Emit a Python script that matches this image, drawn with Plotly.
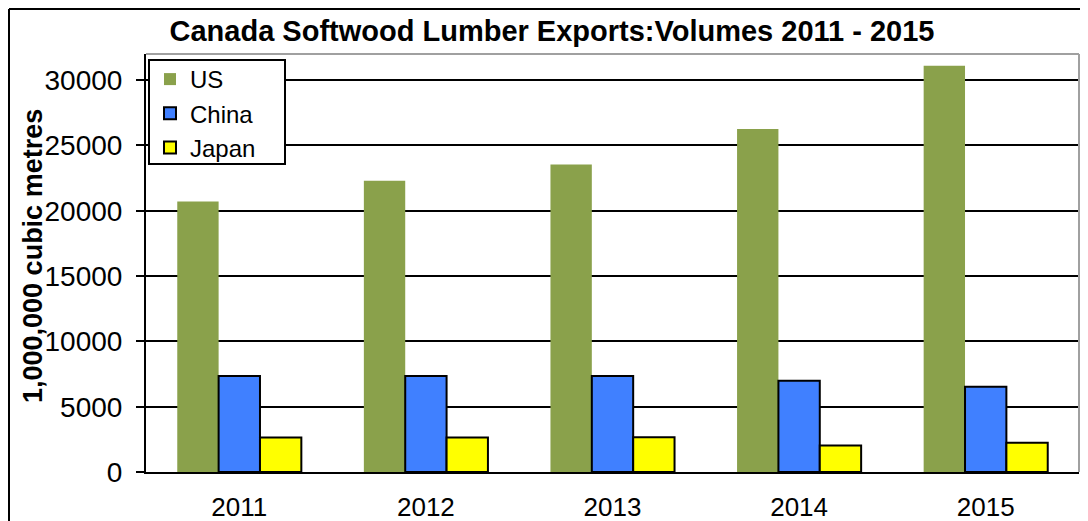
import plotly.graph_objects as go

years = ["2011", "2012", "2013", "2014", "2015"]
us = [20700, 22300, 23550, 26250, 31100]
china = [7350, 7350, 7350, 6980, 6520]
japan = [2650, 2650, 2660, 2030, 2240]
y_ticks = [0, 5000, 10000, 15000, 20000, 25000, 30000]

FONT = "Liberation Sans, Arial, sans-serif"

fig = go.Figure()
fig.add_trace(go.Bar(name="US", x=years, y=us, legendgroup="a",
                     marker=dict(color="#8AA14B", line=dict(color="#8AA14B", width=0))))
fig.add_trace(go.Bar(name="China", x=years, y=china, legendgroup="b",
                     marker=dict(color="#4080FF", line=dict(color="black", width=2))))
fig.add_trace(go.Bar(name="Japan", x=years, y=japan, legendgroup="c",
                     marker=dict(color="#FFFF00", line=dict(color="black", width=2))))

OFF = 8  # browser body margin
W, H = 1088, 521
L, T = 146 - OFF, 54 - OFF
pw, ph = 933, 418
R = W - L - pw
B = H - T - ph


def px_x(x):
    return (x - OFF - L) / pw


def px_y(y):
    return (T + ph - (y - OFF)) / ph


fig.update_layout(
    width=W, height=H,
    margin=dict(l=L, r=R, t=T, b=B, autoexpand=False),
    paper_bgcolor="white", plot_bgcolor="white",
    font=dict(family=FONT, size=25, color="black"),
    barmode="group", bargap=0.335, bargroupgap=0,
    title=dict(text="<b>Canada Softwood Lumber Exports:Volumes 2011 - 2015</b>",
               x=(552 - OFF) / W, xref="container", xanchor="center",
               y=1 - (31 - OFF) / H, yref="container", yanchor="middle",
               font=dict(family=FONT, size=29, color="black")),
    showlegend=True,
    legend=dict(x=px_x(150), y=px_y(57), xanchor="left", yanchor="top",
                bgcolor="rgba(0,0,0,0)", borderwidth=0,
                font=dict(family=FONT, size=24, color="black"),
                traceorder="grouped", tracegroupgap=0, itemwidth=30),
    xaxis=dict(showline=True, linecolor="black", linewidth=2, ticks="outside",
               ticklen=11, tickcolor="rgba(0,0,0,0)", showgrid=False, automargin=False,
               tickfont=dict(family=FONT, size=26, color="black")),
    yaxis=dict(range=[0, 32000], tickvals=y_ticks, tickformat="d", showline=True,
               linecolor="black", automargin=False,
               linewidth=2, ticks="outside", ticklen=8, tickwidth=2, tickcolor="black",
               ticklabelstandoff=8,
               showgrid=True, gridcolor="black", gridwidth=2, zeroline=False,
               tickfont=dict(family=FONT, size=28, color="black")),
    annotations=[dict(text="<b>1,000,000 cubic metres</b>", xref="paper", yref="paper",
                      x=px_x(33), y=px_y(256), xanchor="center",
                      yanchor="middle", textangle=-90, showarrow=False,
                      font=dict(family=FONT, size=27, color="black"))],
)

# plot area top/right gray border
fig.add_shape(type="line", xref="paper", yref="paper", x0=0, x1=1, y0=1, y1=1,
              line=dict(color="#A0A0A0", width=2), layer="above")
fig.add_shape(type="line", xref="paper", yref="paper", x0=1, x1=1, y0=0, y1=1,
              line=dict(color="#A0A0A0", width=2), layer="above")
# legend box
fig.add_shape(type="rect", xref="paper", yref="paper",
              x0=px_x(149), x1=px_x(285), y0=px_y(164), y1=px_y(60),
              line=dict(color="black", width=2), fillcolor="white", layer="above")
# outer chart border (top and left edges)
fig.add_shape(type="line", xref="paper", yref="paper",
              x0=px_x(9), x1=px_x(1100), y0=px_y(9), y1=px_y(9),
              line=dict(color="black", width=2), layer="above")
fig.add_shape(type="line", xref="paper", yref="paper",
              x0=px_x(9), x1=px_x(9), y0=px_y(9), y1=px_y(540),
              line=dict(color="black", width=2), layer="above")

fig.write_html("out.html")
